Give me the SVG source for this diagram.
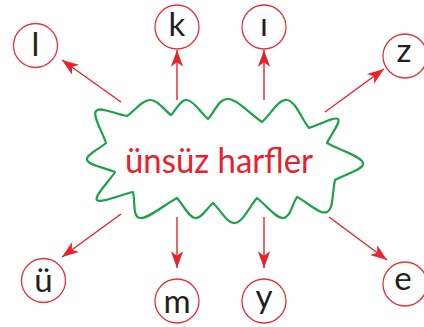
<svg xmlns="http://www.w3.org/2000/svg" width="424" height="327" viewBox="0 0 424 327">
<style>
.c{fill:#fff;stroke:#e8303a;stroke-width:1.3}
.t{font-family:Lato,"Noto Sans",sans-serif;font-size:33px;fill:#231f20;text-anchor:middle}
.a{stroke:#e8212a;stroke-width:1.4;fill:none;marker-end:url(#ah)}
.m{font-family:Lato,"Noto Sans",sans-serif;font-size:34px;fill:#e8212a;text-anchor:middle}
</style>
<defs>
<marker id="ah" markerUnits="userSpaceOnUse" markerWidth="20" markerHeight="20" viewBox="-16 -8 18 16" refX="0" refY="0" orient="auto">
<path d="M0,0 L-15,-5.5 L-11,0 L-15,5.5 Z" fill="#e8212a"/>
</marker>
</defs>
<rect width="424" height="327" fill="#fff"/>
<g id="connectors">
<line class="a" x1="121" y1="102" x2="62" y2="60"/>
<line class="a" x1="177" y1="100" x2="177" y2="50"/>
<line class="a" x1="264" y1="100" x2="264" y2="50"/>
<line class="a" x1="325" y1="112" x2="384" y2="69"/>
<line class="a" x1="121" y1="214" x2="62" y2="257"/>
<line class="a" x1="177" y1="217" x2="177" y2="268"/>
<line class="a" x1="264" y1="217" x2="264" y2="268"/>
<line class="a" x1="329" y1="217" x2="387" y2="260"/>
</g>
<g id="center">
<path d="M106,143 C102.5,131.8 92.2,115.9 96,111 C99.8,106.1 116.2,114.3 127,116 C135.1,110.4 142.1,100.2 150,100 C157.9,99.8 163.7,109.8 171,115 C176.6,109.8 180.3,99.3 187,100 C193.7,100.7 200.7,112.4 208,119 C215,112 218.3,98.5 228,99 C237.7,99.5 250.1,114 262,122 C270.8,114.3 278.5,98.9 287,100 C295.5,101.1 301.3,118.2 309,128 C319.2,124.9 334.8,116.3 338,119 C341.2,121.7 330.9,134.6 327,143 C339.6,150 361.6,156.3 363,163 C364.4,169.7 344.8,174.1 335,180 C332.2,191.2 333.8,208.9 327,212 C320.2,215.1 307.5,202.3 297,197 C292.1,204.4 290.2,217.8 283,218 C275.8,218.2 266.1,205 257,198 C249.3,206.8 242.9,222.1 235,223 C227.1,223.9 220.7,210 213,203 C206.7,208.3 201.5,218.9 195,218 C188.5,217.1 183.3,205 177,198 C164,205 147.9,219.1 140,218 C132.1,216.9 135.5,201.1 133,192 C120.4,194.8 100.2,203.6 97,200 C93.8,196.4 108.7,181.8 115,172 C105.2,167.8 88.6,165.2 87,160 C85.4,154.8 99.4,149 106,143 Z" fill="#fff" stroke="#1ba24a" stroke-width="2.2" stroke-linejoin="round"/>
<text class="m" x="219" y="173" textLength="188" lengthAdjust="spacingAndGlyphs">ünsüz harfler</text>
</g>
<g id="n-l"><circle class="c" cx="35.5" cy="45.5" r="22"/><text class="t" x="35.5" y="56">l</text></g>
<g id="n-k"><circle class="c" cx="177" cy="27" r="22"/><text class="t" x="177" y="36">k</text></g>
<g id="n-i"><circle class="c" cx="264" cy="27" r="22"/><text class="t" x="264" y="36">ı</text></g>
<g id="n-z"><circle class="c" cx="405" cy="56" r="22"/><text class="t" x="404" y="62">z</text></g>
<g id="n-u"><circle class="c" cx="43.5" cy="280.5" r="22"/><text class="t" x="43.5" y="292">ü</text></g>
<g id="n-m"><circle class="c" cx="177" cy="301" r="22"/><text class="t" x="177" y="313">m</text></g>
<g id="n-y"><circle class="c" cx="264" cy="301" r="22"/><text class="t" x="264" y="308">y</text></g>
<g id="n-e"><circle class="c" cx="405" cy="284" r="22"/><text class="t" x="403" y="290">e</text></g>
</svg>
